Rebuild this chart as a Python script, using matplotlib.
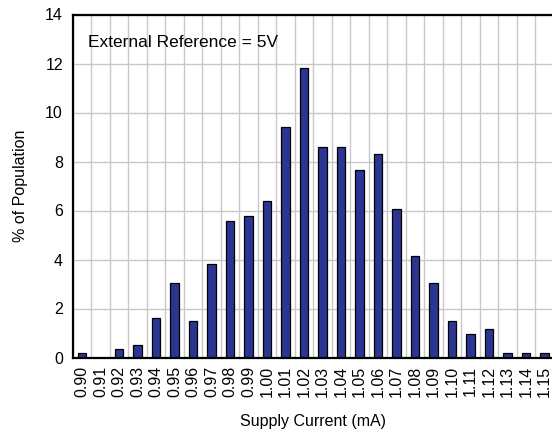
import matplotlib
matplotlib.use("Agg")
import matplotlib.pyplot as plt
from matplotlib.patches import Rectangle
import numpy as np

# Supply-current bins (mA) and share of the population in each bin (%)
currents = ["0.90", "0.91", "0.92", "0.93", "0.94", "0.95", "0.96", "0.97",
            "0.98", "0.99", "1.00", "1.01", "1.02", "1.03", "1.04", "1.05",
            "1.06", "1.07", "1.08", "1.09", "1.10", "1.11", "1.12", "1.13",
            "1.14", "1.15"]
population = [0.2, 0.0, 0.35, 0.5, 1.6, 3.05, 1.47, 3.83, 5.58, 5.76, 6.37,
              9.4, 11.8, 8.6, 8.6, 7.65, 8.3, 6.05, 4.13, 3.05, 1.47, 0.97,
              1.15, 0.18, 0.18, 0.18]
y_ticks = [0, 2, 4, 6, 8, 10, 12, 14]

plt.rcParams['font.family'] = ['Liberation Sans', 'DejaVu Sans']

fig = plt.figure(figsize=(5.52, 4.32), dpi=100)
ax = fig.add_axes([72.7 / 552, (432 - 357.5) / 432, 481 / 552, 343 / 432])

x = np.arange(len(currents))
ax.bar(x, population, width=0.45, color="#2b3592", edgecolor="black",
       linewidth=0.9, zorder=3)

ax.set_xlim(-0.5, len(currents) - 0.5)
ax.set_ylim(0, 14)

# vertical grid between bins, horizontal grid on value ticks
ax.set_xticks(x)
ax.set_xticklabels(currents, rotation=90, fontsize=11.5)
ax.set_xticks(np.arange(len(currents) + 1) - 0.5, minor=True)
ax.set_yticks(y_ticks)
ax.set_yticklabels([str(v) for v in y_ticks], fontsize=11.5)
ax.grid(True, which="minor", axis="x", color="#c8c8c8", linewidth=1.0, zorder=0)
ax.grid(True, which="major", axis="y", color="#c8c8c8", linewidth=1.0, zorder=0)
ax.grid(False, which="major", axis="x")
ax.tick_params(axis="both", which="both", length=0)
ax.tick_params(axis="x", pad=6)
ax.tick_params(axis="y", pad=7)

for side in ("left", "top", "bottom", "right"):
    ax.spines[side].set_linewidth(1.6)
    ax.spines[side].set_color("black")
    ax.spines[side].set_zorder(4)

ax.set_xlabel("Supply Current (mA)", fontsize=11.5, labelpad=12)
ax.set_ylabel("% of Population", fontsize=11.5, labelpad=12)

# white panel behind the annotation, sitting on the 12 % grid line
ax.add_patch(Rectangle((-0.5, 12.05), 11.75, 1.77, facecolor="white",
                       edgecolor="none", zorder=1))
ax.text(0.33, 12.84, "External Reference = 5V", fontsize=12.5,
        ha="left", va="center", zorder=5)

fig.savefig("out.png", dpi=100)
